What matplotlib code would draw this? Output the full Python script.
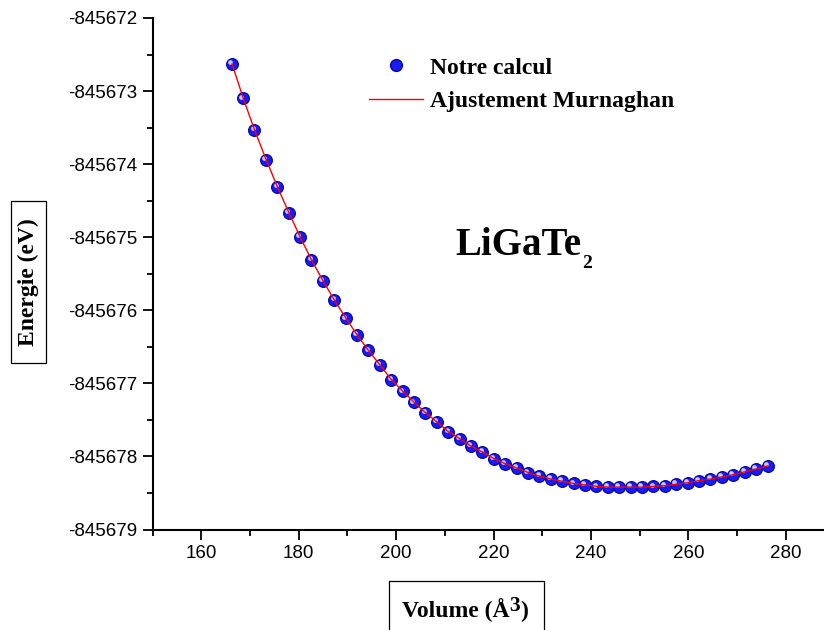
import matplotlib
matplotlib.use('Agg')
import matplotlib.pyplot as plt
from matplotlib.ticker import MultipleLocator
from matplotlib.lines import Line2D
from matplotlib.patches import Rectangle
import matplotlib.transforms as mtransforms

plt.rcParams['font.family'] = 'Liberation Sans'
plt.rcParams['axes.unicode_minus'] = False

SERIF = 'Liberation Serif'

# ---- data ----
volume = [166.3, 168.6, 170.9, 173.3, 175.6, 178.0, 180.3, 182.6, 185.0, 187.3,
          189.7, 192.0, 194.3, 196.7, 199.0, 201.4, 203.7, 206.0, 208.4, 210.7,
          213.1, 215.4, 217.7, 220.1, 222.4, 224.8, 227.1, 229.4, 231.8, 234.1,
          236.5, 238.8, 241.1, 243.5, 245.8, 248.2, 250.5, 252.8, 255.2, 257.5,
          259.9, 262.2, 264.5, 266.9, 269.2, 271.6, 273.9, 276.3]
energie = [-845672.63, -845673.10, -845673.53, -845673.94, -845674.31, -845674.67,
           -845675.00, -845675.31, -845675.60, -845675.86, -845676.11, -845676.34,
           -845676.55, -845676.75, -845676.95, -845677.11, -845677.26, -845677.40,
           -845677.53, -845677.66, -845677.76, -845677.86, -845677.94, -845678.03,
           -845678.10, -845678.16, -845678.22, -845678.27, -845678.31, -845678.34,
           -845678.37, -845678.39, -845678.41, -845678.42, -845678.42, -845678.42,
           -845678.42, -845678.41, -845678.40, -845678.38, -845678.36, -845678.33,
           -845678.31, -845678.28, -845678.25, -845678.21, -845678.17, -845678.13]

W, H = 824, 630
fig = plt.figure(figsize=(W / 100, H / 100), dpi=100)
ax = fig.add_axes([152.7 / W, 1 - 529.5 / H, 681.8 / W, (529.5 - 18) / H])

BALL = '#1a1af2'
EDGE = '#0000a0'

# spheres: boule bleue + reflet
ax.plot(volume, energie, 'o', ms=8.5, mfc=BALL, mec=EDGE, mew=0.8,
        ls='none', zorder=3)
hl = mtransforms.offset_copy(ax.transData, fig=fig, x=-1.8, y=1.8, units='dots')
ax.plot(volume, energie, 'o', ms=3.4, mfc='#dcdcff', mec='none', ls='none',
        alpha=0.9, transform=hl, zorder=4)
ax.plot(volume, energie, '-', color='red', lw=1.0, zorder=5)

ax.set_xlim(150, 290)
ax.set_ylim(-845679, -845672)
ax.ticklabel_format(useOffset=False, style='plain')
ax.xaxis.set_major_locator(MultipleLocator(20))
ax.xaxis.set_minor_locator(MultipleLocator(10))
ax.yaxis.set_major_locator(MultipleLocator(1))
ax.yaxis.set_minor_locator(MultipleLocator(0.5))

for s in ['top', 'right']:
    ax.spines[s].set_visible(False)
for s in ['left', 'bottom']:
    ax.spines[s].set_linewidth(1.5)
ax.tick_params(which='major', direction='out', length=7, width=1.3,
               labelsize=13.5, pad=4)
ax.tick_params(which='minor', direction='out', length=4, width=1.3)

# legende
handles = [Line2D([], [], marker='o', ls='none', ms=8.5, mfc=BALL, mec=EDGE),
           Line2D([], [], color='red', lw=1.0)]
ax.legend(handles, ['Notre calcul', 'Ajustement Murnaghan'],
          prop={'family': SERIF, 'weight': 'bold', 'size': 17},
          frameon=False, loc='upper left',
          bbox_to_anchor=(369 / W, 1 - 57 / H), bbox_transform=fig.transFigure,
          borderpad=0, borderaxespad=0, handlelength=2.3,
          handletextpad=0.3, labelspacing=0.5)

bold = dict(family=SERIF, weight='bold')

# LiGaTe2 avec indice
t_main = fig.text(455 / W, 1 - 255 / H, 'LiGaTe', fontsize=28,
                  va='baseline', ha='left', **bold)

# titres des axes dans des cadres
fig.text(28.3 / W, 1 - 282 / H, 'Energie (eV)', fontsize=17, rotation=90,
         ha='center', va='center', **bold)
fig.add_artist(Rectangle((11 / W, 1 - 363.3 / H), 34.7 / W, 162.6 / H,
                         transform=fig.transFigure, fill=False, ec='black',
                         lw=0.9))
t_vol = fig.text(401.5 / W, 1 - 616.7 / H, 'Volume (Å', fontsize=17,
                 ha='left', va='baseline', **bold)
fig.add_artist(Rectangle((389.3 / W, 1 - 640 / H), 154.7 / W, 59 / H,
                         transform=fig.transFigure, fill=False, ec='black',
                         lw=0.9))

# placer indice / exposant apres mesure du texte
fig.canvas.draw()
r = fig.canvas.get_renderer()
bb = t_main.get_window_extent(r)
fig.text((bb.x1 + 1) / W, 1 - 268 / H, '2', fontsize=14, va='baseline',
         ha='left', **bold)
bb = t_vol.get_window_extent(r)
t3 = fig.text((bb.x1 + 0.5) / W, 1 - 611 / H, '3', fontsize=15.5,
              va='baseline', ha='left', **bold)
fig.canvas.draw()
bb3 = t3.get_window_extent(r)
fig.text((bb3.x1 + 0.5) / W, 1 - 616.7 / H, ')', fontsize=17,
         va='baseline', ha='left', **bold)

fig.savefig('out.png', dpi=100, facecolor='white')
